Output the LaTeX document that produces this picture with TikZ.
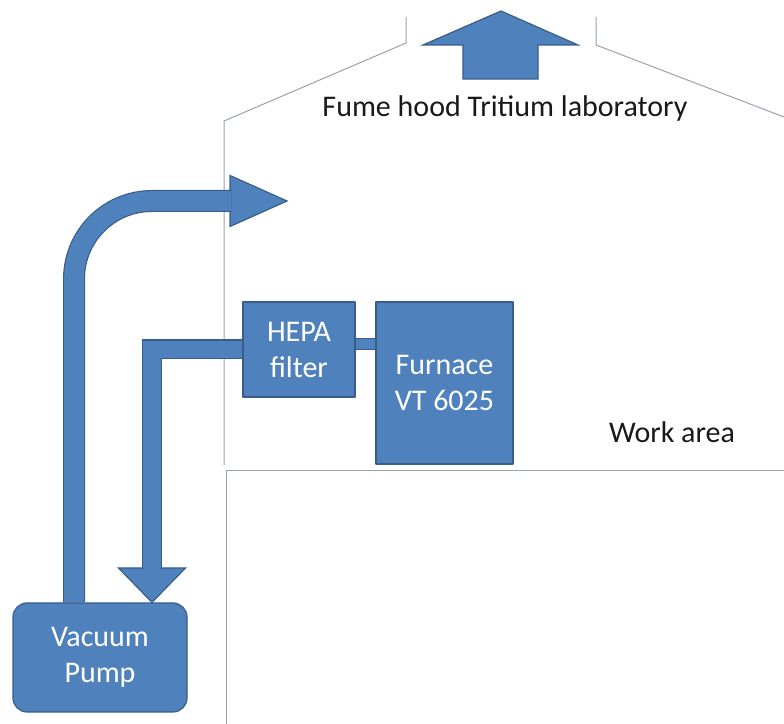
\documentclass[tikz,border=0pt]{standalone}
\usepackage{fontspec}
\setmainfont{Carlito}
\usetikzlibrary{backgrounds}

\definecolor{boxfill}{rgb}{0.31,0.506,0.741}
\definecolor{boxline}{rgb}{0.22,0.365,0.541}
\definecolor{wallcol}{rgb}{0.6,0.63,0.68}

\begin{document}
\begin{tikzpicture}[>=latex,line join=bevel,
  unit/.style={draw=boxline,fill=boxfill,text=white,line width=1.2bp,
    inner sep=0pt,align=center,font=\fontsize{30bp}{36bp}\selectfont},
  label/.style={inner sep=0pt,text=black!90,font=\fontsize{30bp}{36bp}\selectfont},
  wall/.style={draw=wallcol,line width=1bp},
  pipe/.style={draw=boxline,double=boxfill,line width=1.2bp,
    double distance=17.6bp,line join=miter},
  blockhead/.style={draw=boxline,fill=boxfill,line width=1.2bp,line join=miter},
]
  \pgfsetlinewidth{1bp}
  \useasboundingbox (0bp,0bp) rectangle (784bp,724bp);
  % Node: hepa
  \node[unit,minimum width=112bp,minimum height=95bp] (hepa) at (299bp,374.5bp) {HEPA\\filter};
  % Node: furnace
  \node[unit,minimum width=137bp,minimum height=162bp] (furnace) at (444.5bp,341bp) {Furnace\\VT 6025};
  % Node: pump
  \node[unit,rounded corners=14bp,minimum width=174bp,minimum height=109bp] (pump) at (100bp,66.5bp) {Vacuum\\Pump};
  % Node: hood
  \node[label] (hood) at (505bp,615bp) {Fume hood Tritium laboratory};
  % Node: work
  \node[label] (work) at (672bp,292bp) {Work area};
\begin{pgfonlayer}{background}
  % walls of the hood and the bench
  \draw[wall] (224bp,259bp) -- (224bp,603bp) -- (406bp,681bp) -- (406bp,707bp);
  \draw[wall] (596bp,707bp) -- (596bp,679bp) -- (784bp,607bp);
  \draw[wall] (226bp,0bp) -- (226bp,253bp) -- (784bp,253bp);
  % exhaust of the hood
  \filldraw[blockhead] (463bp,645bp) -- (463bp,679bp) -- (423bp,679bp) -- (501bp,713bp)
    -- (578bp,679bp) -- (538bp,679bp) -- (538bp,645bp) -- cycle;
  % Edge: hepa -> furnace
  \draw[pipe,double distance=9.6bp] ([yshift=5.5bp]hepa.east) -- ([yshift=5.5bp]hepa.east -| furnace.west);
  % Edge: hepa -> pump
  \coordinate (downhead) at (152bp,156bp);
  \filldraw[blockhead] (downhead) ++(-33.5bp,0) -- ++(67bp,0) -- (downhead |- pump.north) -- cycle;
  \draw[pipe] (hepa.west) -| ([yshift=-1.5bp]downhead);
  % Edge: pump -> hood
  \coordinate (uphead) at (230bp,523bp);
  \filldraw[blockhead] (uphead) ++(0,25.5bp) -- ++(0,-51bp) -- ++(57bp,25.5bp) -- cycle;
  \draw[pipe,double distance=19.6bp,rounded corners=78bp] ([xshift=-26bp]pump.north) |- ([xshift=1.5bp]uphead);
\end{pgfonlayer}
\end{tikzpicture}
\end{document}
